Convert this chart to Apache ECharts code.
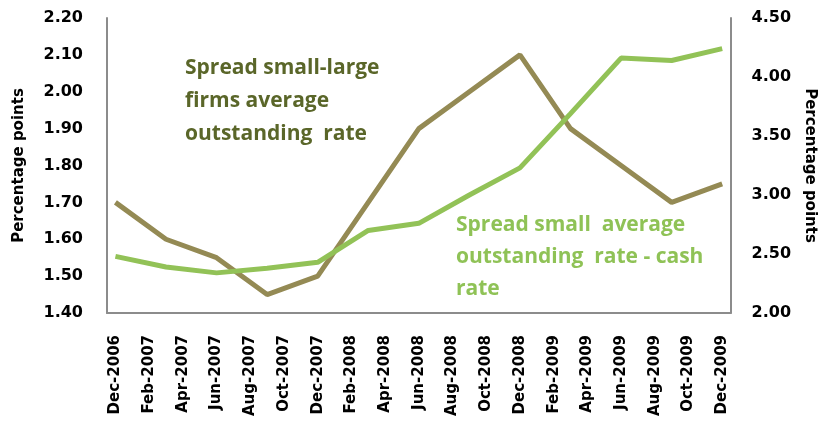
<!DOCTYPE html>
<html>
<head>
<meta charset="utf-8">
<script src="https://cdn.jsdelivr.net/npm/echarts@6/dist/echarts.min.js"></script>
<style>
html,body{margin:0;padding:0;background:#fff;}
#chart{width:825px;height:422px;}
</style>
</head>
<body>
<div id="chart"></div>
<script>
// Monthly axis categories (labels shown every 2 months)
var months = ['Dec-2006','Jan-2007','Feb-2007','Mar-2007','Apr-2007','May-2007','Jun-2007','Jul-2007','Aug-2007','Sep-2007','Oct-2007','Nov-2007',
  'Dec-2007','Jan-2008','Feb-2008','Mar-2008','Apr-2008','May-2008','Jun-2008','Jul-2008','Aug-2008','Sep-2008','Oct-2008','Nov-2008',
  'Dec-2008','Jan-2009','Feb-2009','Mar-2009','Apr-2009','May-2009','Jun-2009','Jul-2009','Aug-2009','Sep-2009','Oct-2009','Nov-2009','Dec-2009'];
// Quarterly observation dates
var quarters = ['Dec-2006','Mar-2007','Jun-2007','Sep-2007','Dec-2007','Mar-2008','Jun-2008','Sep-2008','Dec-2008','Mar-2009','Jun-2009','Sep-2009','Dec-2009'];
// Spread small-large firms average outstanding rate (left axis)
var spreadSmallLarge = [1.70,1.60,1.55,1.45,1.50,1.70,1.90,2.00,2.10,1.90,1.80,1.70,1.75];
// Spread small average outstanding rate - cash rate (right axis)
var spreadSmallCash = [2.48,2.39,2.34,2.38,2.43,2.70,2.76,3.00,3.23,3.69,4.16,4.14,4.24];

var seriesNames = ['Spread small-large firms average outstanding rate','Spread small average outstanding rate - cash rate'];
var axisName = 'Percentage points';

function pairs(vals){ return quarters.map(function(q,i){ return [q, vals[i]]; }); }

var FONT = 'DejaVu Sans';
var brownLine = '#948a54', greenLine = '#92c257';
var brownText = '#5a6629', greenText = '#8fc256';

var chart = echarts.init(document.getElementById('chart'), null, {renderer:'canvas'});
chart.setOption({
  animation:false,
  backgroundColor:'#fff',
  grid:{left:107, right:88, top:18, bottom:109, containLabel:false},
  xAxis:{
    type:'category', data:months, boundaryGap:true,
    axisLine:{show:true, lineStyle:{color:'#8c8c8c', width:2}},
    axisTick:{show:false},
    axisLabel:{interval:1, rotate:90, margin:22, color:'#000', fontFamily:FONT, fontWeight:'bold', fontSize:15}
  },
  yAxis:[{
    type:'value', min:1.4, max:2.2, interval:0.1, position:'left',
    name:axisName, nameLocation:'middle', nameGap:80, nameRotate:90,
    nameTextStyle:{color:'#000', fontFamily:FONT, fontWeight:'bold', fontSize:15},
    axisLine:{show:true, lineStyle:{color:'#8c8c8c', width:2}},
    axisTick:{show:false}, splitLine:{show:false},
    axisLabel:{margin:24, color:'#000', fontFamily:FONT, fontWeight:'bold', fontSize:16,
      formatter:function(v){return v.toFixed(2);}}
  },{
    type:'value', min:2, max:4.5, interval:0.5, position:'right',
    name:axisName, nameLocation:'middle', nameGap:68, nameRotate:-90,
    nameTextStyle:{color:'#000', fontFamily:FONT, fontWeight:'bold', fontSize:15},
    axisLine:{show:true, lineStyle:{color:'#8c8c8c', width:2}},
    axisTick:{show:false}, splitLine:{show:false},
    axisLabel:{margin:21, color:'#000', fontFamily:FONT, fontWeight:'bold', fontSize:16,
      formatter:function(v){return v.toFixed(2);}}
  }],
  series:[{
    name:seriesNames[0], type:'line', yAxisIndex:0, data:pairs(spreadSmallLarge),
    symbol:'none', lineStyle:{color:brownLine, width:5}, z:2
  },{
    name:seriesNames[1], type:'line', yAxisIndex:1, data:pairs(spreadSmallCash),
    symbol:'none', lineStyle:{color:greenLine, width:5}, z:3
  }],
  graphic:[{
    type:'text', left:185, top:52,
    style:{text:'Spread small-large\nfirms average\noutstanding  rate', fill:brownText,
      font:'bold 21px "Open Sans"', lineHeight:33}
  },{
    type:'text', left:456, top:209,
    style:{text:'Spread small  average\noutstanding  rate - cash\nrate', fill:greenText,
      font:'bold 21px "Open Sans"', lineHeight:32}
  }]
});
</script>
</body>
</html>
